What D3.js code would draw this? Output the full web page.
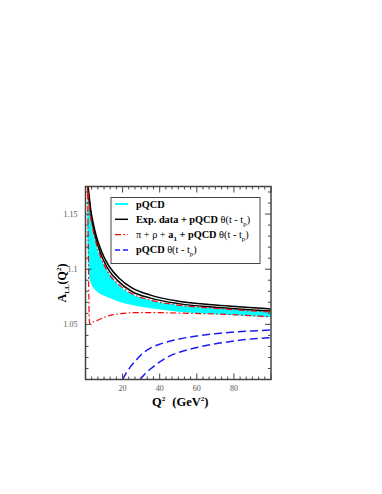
<!DOCTYPE html>
<html lang="en">
<head>
    <meta charset="UTF-8">
    <title>A_LL(Q2)</title>
    <style>
        body { margin: 0; background: #fff; }
        text { font-family: "Liberation Serif", "DejaVu Serif", serif; }
    </style>
</head>
<body>
    <div id="chart"></div>
    <script src="https://d3js.org/d3.v7.min.js"></script>
    <script>
        const [width, height] = [382, 494]
        const margin = {left: 85.5, right: 111, top: 186.5, bottom: 114.5}

        // values
        const q2Black = [1.0, 1.5, 2, 3, 4, 6, 8, 10, 13, 18, 25, 35, 50, 70, 100]
        const expUpper = [1.185, 1.174, 1.166, 1.152, 1.143, 1.129, 1.119, 1.111, 1.102, 1.092, 1.083, 1.0765, 1.071, 1.0675, 1.064]
        const expLower = [1.181, 1.17, 1.162, 1.148, 1.139, 1.125, 1.115, 1.107, 1.098, 1.0885, 1.0798, 1.0738, 1.0688, 1.0655, 1.0622]

        const q2Red = [1.0, 1.5, 2, 3, 4, 6, 8, 10, 13, 18, 25, 35, 50, 70, 100]
        const mesonUpper = [1.182, 1.168, 1.159, 1.145, 1.136, 1.122, 1.112, 1.104, 1.095, 1.086, 1.0778, 1.072, 1.0675, 1.0645, 1.0612]

        const q2Cyan = [1.0, 1.5, 2, 3, 5, 8, 12, 18, 25, 35, 50, 70, 100]
        const pqcdTop = [1.18, 1.166, 1.157, 1.143, 1.127, 1.111, 1.098, 1.0855, 1.0775, 1.0718, 1.0675, 1.0645, 1.0615]
        const pqcdBottom = [1.13, 1.105, 1.093, 1.087, 1.0815, 1.0775, 1.0745, 1.0705, 1.0675, 1.0645, 1.0615, 1.0592, 1.0565]

        const q2Red2 = [1.1, 1.3, 1.5, 1.8, 2.1, 2.6, 4, 7, 11, 18, 28, 40, 51, 72, 100]
        const mesonLower = [1.18, 1.15, 1.12, 1.075, 1.052, 1.0505, 1.052, 1.054, 1.057, 1.0595, 1.0607, 1.0606, 1.0602, 1.0593, 1.0568]

        const q2Blue1 = [20, 22, 24, 27, 30, 35, 40, 50, 60, 70, 80, 90, 100]
        const thetaA = [1.0, 1.006, 1.011, 1.017, 1.0225, 1.0285, 1.032, 1.0365, 1.0395, 1.0415, 1.043, 1.044, 1.045]
        const q2Blue2 = [29.5, 32, 35, 40, 45, 51, 60, 72.5, 85, 100]
        const thetaB = [1.0, 1.005, 1.0095, 1.016, 1.021, 1.025, 1.029, 1.033, 1.036, 1.038]

        const xTicks = [20, 40, 60, 80]
        const yTicks = [1.05, 1.1, 1.15]
        const yTickLabels = ["1.05", "1.1", "1.15"]

        const x = d3.scaleLinear().domain([0, 100]).range([margin.left, width - margin.right])
        const y = d3.scaleLinear().domain([1.0, 1.175]).range([height - margin.bottom, margin.top])

        const svg = d3.select('#chart').append('svg')
            .attr('width', width).attr('height', height)

        svg.append('clipPath').attr('id', 'clip').append('rect')
            .attr('x', x(0)).attr('y', y(1.175))
            .attr('width', x(100) - x(0)).attr('height', y(1.0) - y(1.175))

        const plot = svg.append('g').attr('clip-path', 'url(#clip)')

        const line = d3.line().x(d => x(d[0])).y(d => y(d[1])).curve(d3.curveMonotoneX)
        const zip = (a, b) => a.map((v, i) => [v, b[i]])

        // cyan pQCD band
        const band = d3.area()
            .x(d => x(d[0])).y0(d => y(d[2])).y1(d => y(d[1]))
            .curve(d3.curveMonotoneX)
        plot.append('path')
            .datum(q2Cyan.map((v, i) => [v, pqcdTop[i], pqcdBottom[i]]))
            .attr('d', band).attr('fill', '#00ffff')

        // black lines
        ;[expUpper, expLower].forEach(s => {
            plot.append('path').datum(zip(q2Black, s)).attr('d', line)
                .attr('fill', 'none').attr('stroke', '#000').attr('stroke-width', 1.5)
        })

        // red dash-dot lines
        plot.append('path').datum(zip(q2Red, mesonUpper)).attr('d', line)
            .attr('fill', 'none').attr('stroke', '#ff0000').attr('stroke-width', 1.2)
            .attr('stroke-dasharray', '6,2.5,1.5,2.5')
        plot.append('path').datum(zip(q2Red2, mesonLower)).attr('d', line)
            .attr('fill', 'none').attr('stroke', '#ff0000').attr('stroke-width', 1.2)
            .attr('stroke-dasharray', '6,2.5,1.5,2.5')

        // blue dashed lines
        ;[zip(q2Blue1, thetaA), zip(q2Blue2, thetaB)].forEach(d => {
            plot.append('path').datum(d).attr('d', line)
                .attr('fill', 'none').attr('stroke', '#1a1aff').attr('stroke-width', 1.5)
                .attr('stroke-dasharray', '8,4')
        })

        // frame and ticks (all inward, mirrored)
        const frameCol = '#444'
        const axes = svg.append('g')
        const xMinor = d3.range(0, 100.01, 20 / 6)
        const yMinor = d3.range(1.0, 1.1751, 0.01)
        xMinor.forEach(v => {
            const major = Math.abs(v / 20 - Math.round(v / 20)) < 1e-6
            const len = major ? 6 : 3
            axes.append('line').attr('x1', x(v)).attr('x2', x(v))
                .attr('y1', y(1.0)).attr('y2', y(1.0) - len)
            axes.append('line').attr('x1', x(v)).attr('x2', x(v))
                .attr('y1', y(1.175)).attr('y2', y(1.175) + len)
        })
        yMinor.forEach(v => {
            const major = Math.abs(v / 0.05 - Math.round(v / 0.05)) < 1e-6
            const len = major ? 6 : 3
            axes.append('line').attr('y1', y(v)).attr('y2', y(v))
                .attr('x1', x(0)).attr('x2', x(0) + len)
            axes.append('line').attr('y1', y(v)).attr('y2', y(v))
                .attr('x1', x(100)).attr('x2', x(100) - len)
        })
        axes.selectAll('line').attr('stroke', frameCol).attr('stroke-width', 1)
        axes.append('rect')
            .attr('x', x(0)).attr('y', y(1.175))
            .attr('width', x(100) - x(0)).attr('height', y(1.0) - y(1.175))
            .attr('fill', 'none').attr('stroke', frameCol).attr('stroke-width', 1.5)

        // tick labels
        svg.append('g').selectAll('text').data(xTicks).join('text')
            .attr('x', d => x(d)).attr('y', y(1.0) + 11)
            .attr('text-anchor', 'middle').attr('font-size', 8).attr('fill', '#555')
            .text(d => d)
        svg.append('g').selectAll('text').data(yTicks).join('text')
            .attr('x', x(0) - 8).attr('y', d => y(d) + 3)
            .attr('text-anchor', 'end').attr('font-size', 8).attr('fill', '#555')
            .text((d, i) => yTickLabels[i])

        // axis titles
        const xl = svg.append('text')
            .attr('x', (x(0) + x(100)) / 2 + 2).attr('y', 406)
            .attr('text-anchor', 'middle').attr('font-size', 12.5).attr('font-weight', 'bold')
        xl.append('tspan').text('Q')
        xl.append('tspan').attr('font-size', 7).attr('dy', -5).text('2')
        xl.append('tspan').attr('dy', 5).attr('dx', 7).text('(GeV')
        xl.append('tspan').attr('font-size', 7).attr('dy', -5).text('2')
        xl.append('tspan').attr('dy', 5).text(')')

        const yl = svg.append('text')
            .attr('transform', `translate(66,${(y(1.0) + y(1.175)) / 2}) rotate(-90)`)
            .attr('text-anchor', 'middle').attr('font-size', 12).attr('font-weight', 'bold')
        yl.append('tspan').text('A')
        yl.append('tspan').attr('font-size', 7).attr('dy', 3).text('LL')
        yl.append('tspan').attr('dy', -3).text('(Q')
        yl.append('tspan').attr('font-size', 7).attr('dy', -5).text('2')
        yl.append('tspan').attr('dy', 5).text(')')

        // legend
        const lg = svg.append('g')
        lg.append('rect').attr('x', 111).attr('y', 197.5).attr('width', 149).attr('height', 66)
            .attr('fill', '#fff').attr('stroke', frameCol).attr('stroke-width', 1)
        const entries = [
            {stroke: '#00ffff', dash: null, w: 2},
            {stroke: '#000', dash: null, w: 1.5},
            {stroke: '#ff0000', dash: '6,2.5,1.5,2.5', w: 1.2},
            {stroke: '#1a1aff', dash: '5,3', w: 1.5}
        ]
        entries.forEach((e, i) => {
            const ly = 204 + i * 15.3
            lg.append('line').attr('x1', 115).attr('x2', 128).attr('y1', ly).attr('y2', ly)
                .attr('stroke', e.stroke).attr('stroke-width', e.w)
                .attr('stroke-dasharray', e.dash)
        })
        const texts = lg.append('g').attr('font-size', 10.3).attr('font-weight', 'bold')
        const row = i => texts.append('text').attr('x', 136).attr('y', 207.5 + i * 15.3)
        const theta = t => {
            t.append('tspan').attr('font-weight', 'normal').text('θ(t - t')
            t.append('tspan').attr('font-weight', 'normal').attr('font-size', 7).attr('dy', 3).text('p')
            t.append('tspan').attr('font-weight', 'normal').attr('dy', -3).text(')')
        }
        row(0).text('pQCD')
        let t = row(1)
        t.append('tspan').text('Exp. data + pQCD ')
        theta(t)
        t = row(2)
        t.append('tspan').attr('font-weight', 'normal').text('π + ρ + ')
        t.append('tspan').text('a')
        t.append('tspan').attr('font-size', 7).attr('dy', 3).text('1')
        t.append('tspan').attr('dy', -3).text(' + pQCD ')
        theta(t)
        t = row(3)
        t.append('tspan').text('pQCD  ')
        theta(t)
    </script>
</body>
</html>
